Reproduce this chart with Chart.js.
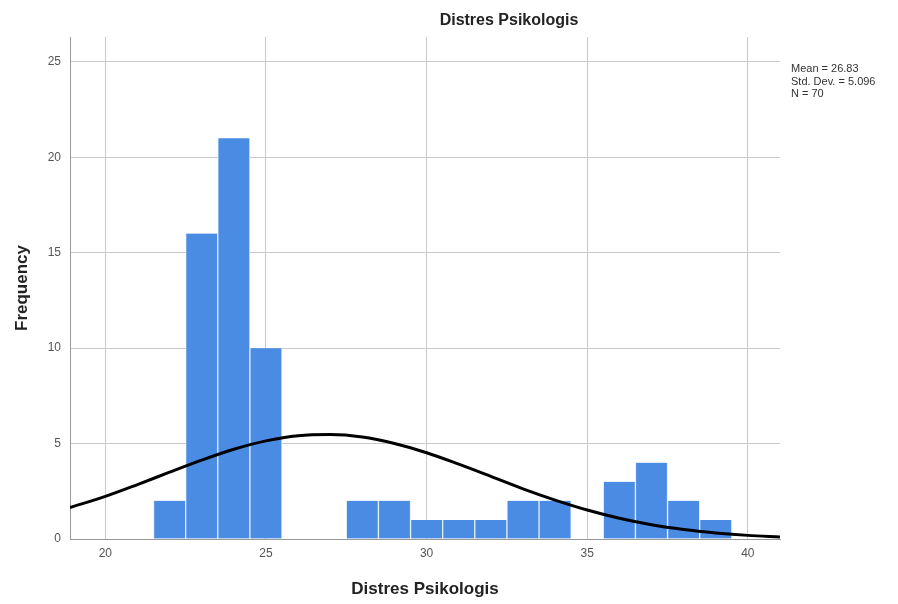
<!DOCTYPE html>
<html>
<head>
<meta charset="utf-8">
<script src="https://cdn.jsdelivr.net/npm/chart.js@4.4.1/dist/chart.umd.min.js"></script>
<style>
  html, body { margin: 0; padding: 0; background: #fff; }
  #wrap { position: relative; width: 898px; height: 604px; font-family: "Liberation Sans", Arial, sans-serif; }
  #title { position: absolute; left: 509px; top: 11px; transform: translateX(-50%); font-weight: bold; font-size: 16px; color: #222; white-space: nowrap; }
  #stats { position: absolute; left: 791px; top: 62px; font-size: 11px; line-height: 12.5px; color: #333; }
</style>
</head>
<body>
<div id="wrap">
  <canvas id="chart" width="898" height="604"></canvas>
  <div id="title">Distres Psikologis</div>
  <div id="stats">Mean = 26.83<br>Std. Dev. = 5.096<br>N = 70</div>
</div>
<script>
// bin centres and counts
const binCenters = [22, 23, 24, 25, 26, 27, 28, 29, 30, 31, 32, 33, 34, 35, 36, 37, 38, 39];
const binCounts  = [2, 16, 21, 10, 0, 0, 2, 2, 1, 1, 1, 2, 2, 0, 3, 4, 2, 1];

// normal curve, points
const curveX = [18.9, 20, 21, 22, 23, 24, 25, 26, 27, 28, 29, 30, 31, 32, 33, 34, 35, 36, 37, 38, 39, 40, 41];
const curveY = [1.65, 2.23, 2.85, 3.5, 4.13, 4.7, 5.14, 5.41, 5.47, 5.34, 5.0, 4.52, 3.92, 3.28, 2.63, 2.04, 1.52, 1.09, 0.75, 0.5, 0.32, 0.19, 0.11];

const xTicks = [20, 25, 30, 35, 40];

const fontFam = '"Liberation Sans", Arial, sans-serif';

new Chart(document.getElementById('chart'), {
    type: 'bar',
    data: {
        datasets: [
            {
                type: 'line',
                data: curveX.map((x, i) => ({ x: x, y: curveY[i] })),
                borderColor: '#000',
                borderWidth: 3,
                pointRadius: 0,
                cubicInterpolationMode: 'monotone',
                fill: false,
                order: 0
            },
            {
                type: 'bar',
                data: binCenters.map((x, i) => ({ x: x, y: binCounts[i] })),
                backgroundColor: '#4a8be4',
                borderColor: 'rgba(225,236,250,0.9)',
                borderWidth: { left: 1, right: 1, top: 0, bottom: 0 },
                barPercentage: 1,
                categoryPercentage: 1,
                order: 1
            }
        ]
    },
    options: {
        responsive: false,
        animation: false,
        layout: { padding: { top: 37, right: 118, left: 0, bottom: 0 } },
        plugins: {
            legend: { display: false },
            tooltip: { enabled: false }
        },
        scales: {
            x: {
                type: 'linear',
                min: 18.9,
                max: 41,
                offset: false,
                afterFit: s => { s.height = 65; },
                afterBuildTicks: s => { s.ticks = xTicks.map(v => ({ value: v })); },
                ticks: { font: { family: fontFam, size: 12 }, color: '#555', padding: 7 },
                grid: { color: '#c9c9c9', drawTicks: false, offset: false },
                border: { color: '#999' },
                title: { display: true, text: 'Distres Psikologis', font: { family: fontFam, size: 17, weight: 'bold' }, color: '#222', padding: { bottom: 4 } }
            },
            y: {
                min: 0,
                max: 26.3,
                afterFit: s => { s.width = 70; },
                ticks: { stepSize: 5, includeBounds: false, font: { family: fontFam, size: 12 }, color: '#555', padding: 9 },
                grid: { color: '#c9c9c9', drawTicks: false },
                border: { color: '#999' },
                title: { display: true, text: 'Frequency', font: { family: fontFam, size: 17, weight: 'bold' }, color: '#222', padding: { top: 12 } }
            }
        }
    }
});
</script>
</body>
</html>
